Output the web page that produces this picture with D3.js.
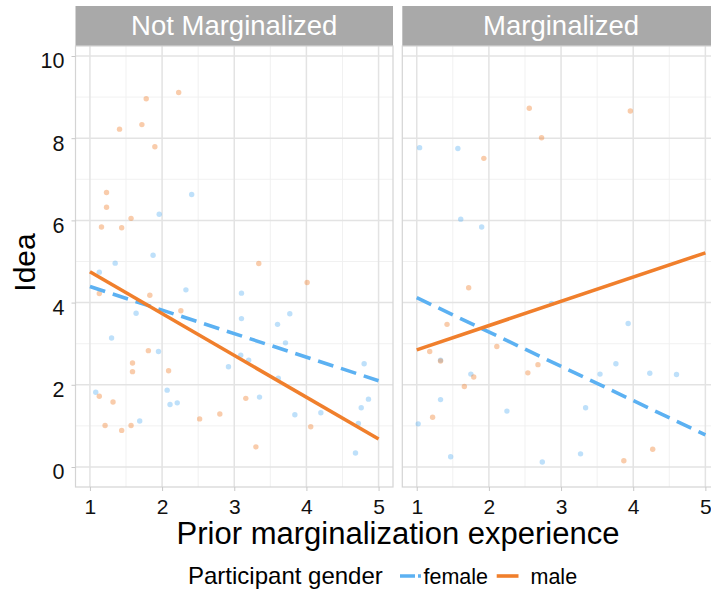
<!DOCTYPE html>
<html>
<head>
<meta charset="utf-8">
<script src="https://cdn.jsdelivr.net/npm/d3@7/dist/d3.min.js"></script>
<style>
  html, body { margin: 0; padding: 0; background: #fff; overflow: hidden; }
  svg { display: block; font-family: "Liberation Sans", Arial, Helvetica, sans-serif; }
</style>
</head>
<body>
<svg id="chart" width="711" height="592"></svg>
<script>
// Facet labels and legend groups
const panels = ["Not Marginalized", "Marginalized"];
const genders = ["female", "male"];
const xTicks = [1, 2, 3, 4, 5];
const yTicks = [0, 2, 4, 6, 8, 10];

// Observations: [prior marginalization experience, idea score]
const notMargFemale = [
  [2.41, 6.63], [1.96, 6.15], [1.875, 5.15], [1.35, 4.96], [1.13, 4.74], [2.33, 4.31],
  [3.10, 4.23], [1.64, 3.74], [3.77, 3.73], [3.10, 3.61], [3.60, 3.47], [1.30, 3.14],
  [3.71, 3.02], [1.95, 2.81], [3.09, 2.72], [3.20, 2.60], [2.92, 2.44], [4.80, 2.51],
  [3.61, 2.16], [1.08, 1.82], [2.07, 1.87], [2.11, 1.52], [2.21, 1.56], [3.35, 1.70],
  [4.86, 1.65], [4.76, 1.44], [3.84, 1.27], [4.20, 1.32], [1.69, 1.12], [4.72, 1.06],
  [4.68, 0.34]
];
const notMargMale = [
  [2.23, 9.11], [1.78, 8.96], [1.41, 8.22], [1.72, 8.33], [1.90, 7.79], [1.23, 6.68],
  [1.23, 6.32], [1.57, 6.05], [1.16, 5.84], [1.44, 5.82], [3.34, 4.95], [4.01, 4.49],
  [1.13, 4.22], [1.83, 4.18], [2.26, 3.80], [1.81, 2.83], [1.59, 2.53], [1.59, 2.32],
  [2.09, 2.34], [1.13, 1.72], [1.32, 1.58], [3.16, 1.67], [2.52, 1.17], [2.80, 1.29],
  [1.21, 1.01], [1.57, 1.01], [1.44, 0.89], [4.06, 0.98], [3.30, 0.49]
];
const margFemale = [
  [1.04, 7.77], [1.57, 7.75], [1.61, 6.03], [1.90, 5.84], [2.87, 3.98], [3.93, 3.49],
  [1.33, 2.60], [3.76, 2.51], [3.54, 2.26], [4.23, 2.28], [4.60, 2.25], [1.75, 2.26],
  [1.33, 1.64], [3.34, 1.44], [2.25, 1.36], [1.02, 1.05], [1.47, 0.25], [2.74, 0.12],
  [3.27, 0.32]
];
const margMale = [
  [2.56, 8.73], [3.96, 8.66], [2.73, 8.01], [1.93, 7.51], [1.72, 4.36], [1.42, 3.47],
  [2.11, 2.93], [1.18, 2.81], [1.33, 2.58], [2.68, 2.49], [2.54, 2.29], [1.79, 2.19],
  [1.66, 1.96], [1.22, 1.21], [3.87, 0.15], [4.27, 0.43]
];

// Linear fits: predicted idea score at x = 1 and x = 5
const trendX = [1, 5];
const notMargFemaleFit = [4.39, 2.10];
const notMargMaleFit = [4.75, 0.68];
const margFemaleFit = [4.12, 0.78];
const margMaleFit = [2.85, 5.21];

const palette = { female: "#5cb1f2", male: "#f07f2c" };

const facetData = [
  { name: panels[0], female: notMargFemale, male: notMargMale,
    fit: { female: notMargFemaleFit, male: notMargMaleFit }, left: 75.5 },
  { name: panels[1], female: margFemale, male: margMale,
    fit: { female: margFemaleFit, male: margMaleFit }, left: 402.3 }
];

const svg = d3.select("#chart");
const panelW = 317.5, panelTop = 46, panelBottom = 487, stripTop = 6;

const y = d3.scaleLinear().domain([-0.487, 10.243]).range([panelBottom, panelTop]);

facetData.forEach((f, i) => {
  const x = d3.scaleLinear().domain([0.8, 5.2]).range([f.left, f.left + panelW]);
  const g = svg.append("g");

  // strip
  g.append("rect").attr("x", f.left).attr("y", stripTop)
    .attr("width", panelW).attr("height", panelTop - stripTop).attr("fill", "#a9a9a9");
  g.append("text").attr("x", f.left + panelW / 2).attr("y", 35)
    .attr("text-anchor", "middle").attr("fill", "#fff").attr("font-size", 27.5)
    .text(f.name);

  // grid
  const minorX = [1.5, 2.5, 3.5, 4.5];
  const minorY = [1, 3, 5, 7, 9];
  g.selectAll(".gxm").data(minorX).join("line")
    .attr("x1", d => x(d)).attr("x2", d => x(d)).attr("y1", panelTop).attr("y2", panelBottom)
    .attr("stroke", "#efefef").attr("stroke-width", 0.9);
  g.selectAll(".gym").data(minorY).join("line")
    .attr("y1", d => y(d)).attr("y2", d => y(d)).attr("x1", f.left).attr("x2", f.left + panelW)
    .attr("stroke", "#efefef").attr("stroke-width", 0.9);
  g.selectAll(".gx").data(xTicks).join("line")
    .attr("x1", d => x(d)).attr("x2", d => x(d)).attr("y1", panelTop).attr("y2", panelBottom)
    .attr("stroke", "#e3e3e3").attr("stroke-width", 1.5);
  g.selectAll(".gy").data(yTicks).join("line")
    .attr("y1", d => y(d)).attr("y2", d => y(d)).attr("x1", f.left).attr("x2", f.left + panelW)
    .attr("stroke", "#e3e3e3").attr("stroke-width", 1.5);

  // points
  genders.forEach(gd => {
    g.selectAll(".p-" + gd).data(f[gd]).join("circle")
      .attr("cx", d => x(d[0])).attr("cy", d => y(d[1])).attr("r", 2.7)
      .attr("fill", palette[gd]).attr("fill-opacity", 0.4);
  });

  // fitted lines
  genders.forEach(gd => {
    const pts = trendX.map((tx, k) => [tx, f.fit[gd][k]]);
    g.append("path")
      .attr("d", d3.line().x(d => x(d[0])).y(d => y(d[1]))(pts))
      .attr("fill", "none").attr("stroke", palette[gd]).attr("stroke-width", 3.6)
      .attr("stroke-dasharray", gd === "female" ? "16,8" : null);
  });

  // panel border
  g.append("rect").attr("x", f.left).attr("y", panelTop)
    .attr("width", panelW).attr("height", panelBottom - panelTop)
    .attr("fill", "none").attr("stroke", "#d4d4d4").attr("stroke-width", 1.2);

  // x axis
  const xAxis = d3.axisBottom(x).tickValues(xTicks).tickSize(4).tickPadding(8).tickFormat(d3.format("d"));
  const xa = g.append("g").attr("transform", `translate(0,${panelBottom})`).call(xAxis);
  xa.select(".domain").remove();
  xa.selectAll(".tick line").attr("stroke", "#c8c8c8");
  xa.selectAll(".tick text").attr("font-size", 21).attr("fill", "#111")
    .attr("font-family", "Liberation Sans, Arial, sans-serif").attr("dy", "0.71em");

  if (i === 0) {
    const yAxis = d3.axisLeft(y).tickValues(yTicks).tickSize(4).tickPadding(7).tickFormat(d3.format("d"));
    const ya = g.append("g").attr("transform", `translate(${f.left},0)`).call(yAxis);
    ya.select(".domain").remove();
    ya.selectAll(".tick line").attr("stroke", "#c8c8c8");
    ya.selectAll(".tick text").attr("font-size", 21.5).attr("fill", "#111")
      .attr("font-family", "Liberation Sans, Arial, sans-serif").attr("dy", "0.55em");
  }
});

// axis titles
svg.append("text").attr("transform", "translate(35,262.5) rotate(-90)")
  .attr("text-anchor", "middle").attr("font-size", 30).attr("fill", "#000").text("Idea");
svg.append("text").attr("x", 398).attr("y", 544)
  .attr("text-anchor", "middle").attr("font-size", 31).attr("fill", "#000")
  .text("Prior marginalization experience");

// legend
const legend = svg.append("g");
legend.append("text").attr("x", 188).attr("y", 584).attr("font-size", 24).attr("fill", "#000")
  .text("Participant gender");
const keys = [
  { g: genders[0], x0: 400, x1: 421, tx: 423.5, dash: "15,3" },
  { g: genders[1], x0: 496.7, x1: 518.5, tx: 530.5, dash: null }
];
keys.forEach(k => {
  legend.append("line").attr("x1", k.x0).attr("x2", k.x1).attr("y1", 576).attr("y2", 576)
    .attr("stroke", palette[k.g]).attr("stroke-width", 3.6).attr("stroke-dasharray", k.dash);
  legend.append("text").attr("x", k.tx).attr("y", 584).attr("font-size", 21.5).attr("fill", "#000")
    .text(k.g);
});
</script>
</body>
</html>
